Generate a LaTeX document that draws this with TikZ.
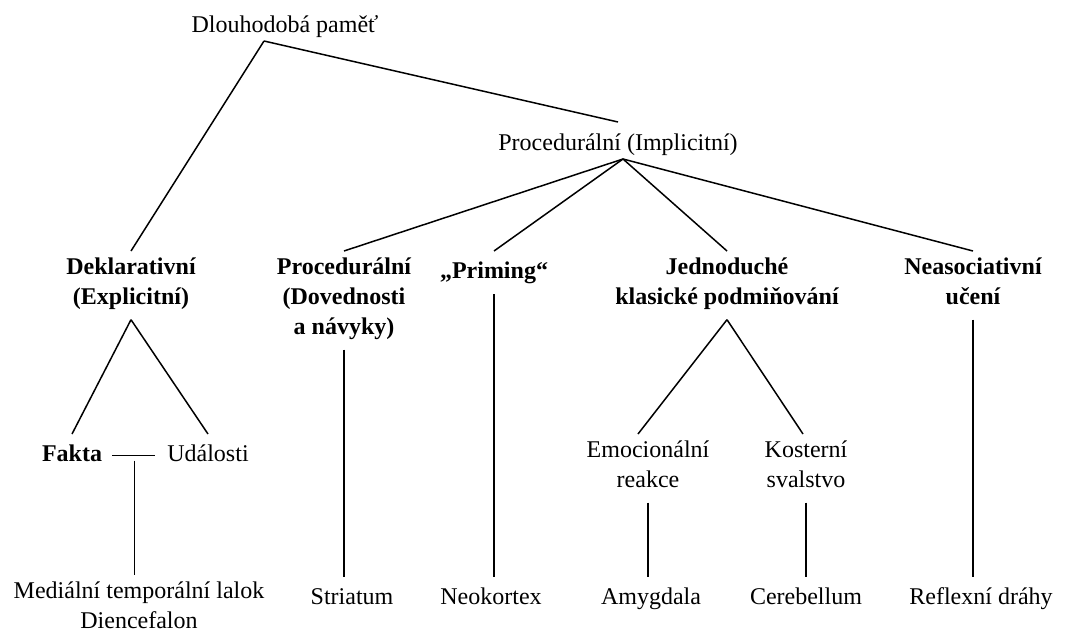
\documentclass[tikz,border=0pt]{standalone}
\usepackage{fontspec}
\setmainfont{Liberation Serif}
\usetikzlibrary{calc}

\begin{document}
\begin{tikzpicture}[
    x=1pt,y=-1pt,line width=1.5pt,
    lbl/.style={align=center,anchor=north,inner sep=0pt,
        outer xsep=0pt,outer ysep=6.5pt,
        font=\fontsize{24}{30}\selectfont,
        execute at begin node=\strut,execute at end node=\strut},
    head/.style={lbl,outer ysep=0pt},
    bf/.style={lbl,font=\fontsize{24}{30}\selectfont\bfseries}]
    \useasboundingbox (0,0) rectangle (1086,632);
    % top levels
    \node[head] (dlouh) at (285,11) {Dlouhodobá paměť};
    \node[head] (proc) at (618,129) {Procedurální (Implicitní)};
    % second row
    \node[bf] (dekl) at (131,251) {Deklarativní\\(Explicitní)};
    \node[bf] (procd) at (344,251) {Procedurální\\(Dovednosti\\a návyky)};
    \node[bf] (prim) at (494,251) {„Priming“};
    \node[bf] (jedn) at (727,251) {Jednoduché\\klasické podmiňování};
    \node[bf] (neas) at (973,251) {Neasociativní\\učení};
    % third row
    \node[bf] (fakta) at (72,434) {Fakta};
    \node[lbl] (udal) at (208,434) {Události};
    \node[lbl] (emoc) at (648,434) {Emocionální\\reakce};
    \node[lbl] (kost) at (806,434) {Kosterní\\svalstvo};
    % brain structures
    \node[lbl] (medial) at (139,575) {Mediální temporální lalok\\Diencefalon};
    \node[lbl] (striat) at (352,577) {Striatum};
    \node[lbl] (neok) at (491,577) {Neokortex};
    \node[lbl] (amyg) at (651,577) {Amygdala};
    \node[lbl] (cereb) at (806,577) {Cerebellum};
    \node[lbl] (refl) at (981,577) {Reflexní dráhy};
    % connectors
    \draw ([xshift=-21pt]dlouh.south) -- (dekl.north);
    \draw ([xshift=-21pt]dlouh.south) -- ([yshift=7pt]proc.north);
    \foreach \n in {procd,prim,jedn,neas}
        \draw ([xshift=5pt]proc.south) -- (\n.north);
    \draw (dekl.south) -- (fakta.north);
    \draw (dekl.south) -- (udal.north);
    \draw (jedn.south) -- ([xshift=-10pt]emoc.north);
    \draw (jedn.south) -- ([xshift=-3pt]kost.north);
    \draw[shorten <=10pt,shorten >=12pt] (fakta.east) -- (udal.west);
    \coordinate (fu) at ($(fakta.east)!.5!(udal.west)$);
    \draw ([yshift=-5pt]fu) -- (fu |- medial.north);
    \foreach \a/\b in {procd/striat,prim/neok,emoc/amyg,kost/cereb,neas/refl}
        \draw (\a.south) -- (\a.south |- \b.north);
\end{tikzpicture}
\end{document}
